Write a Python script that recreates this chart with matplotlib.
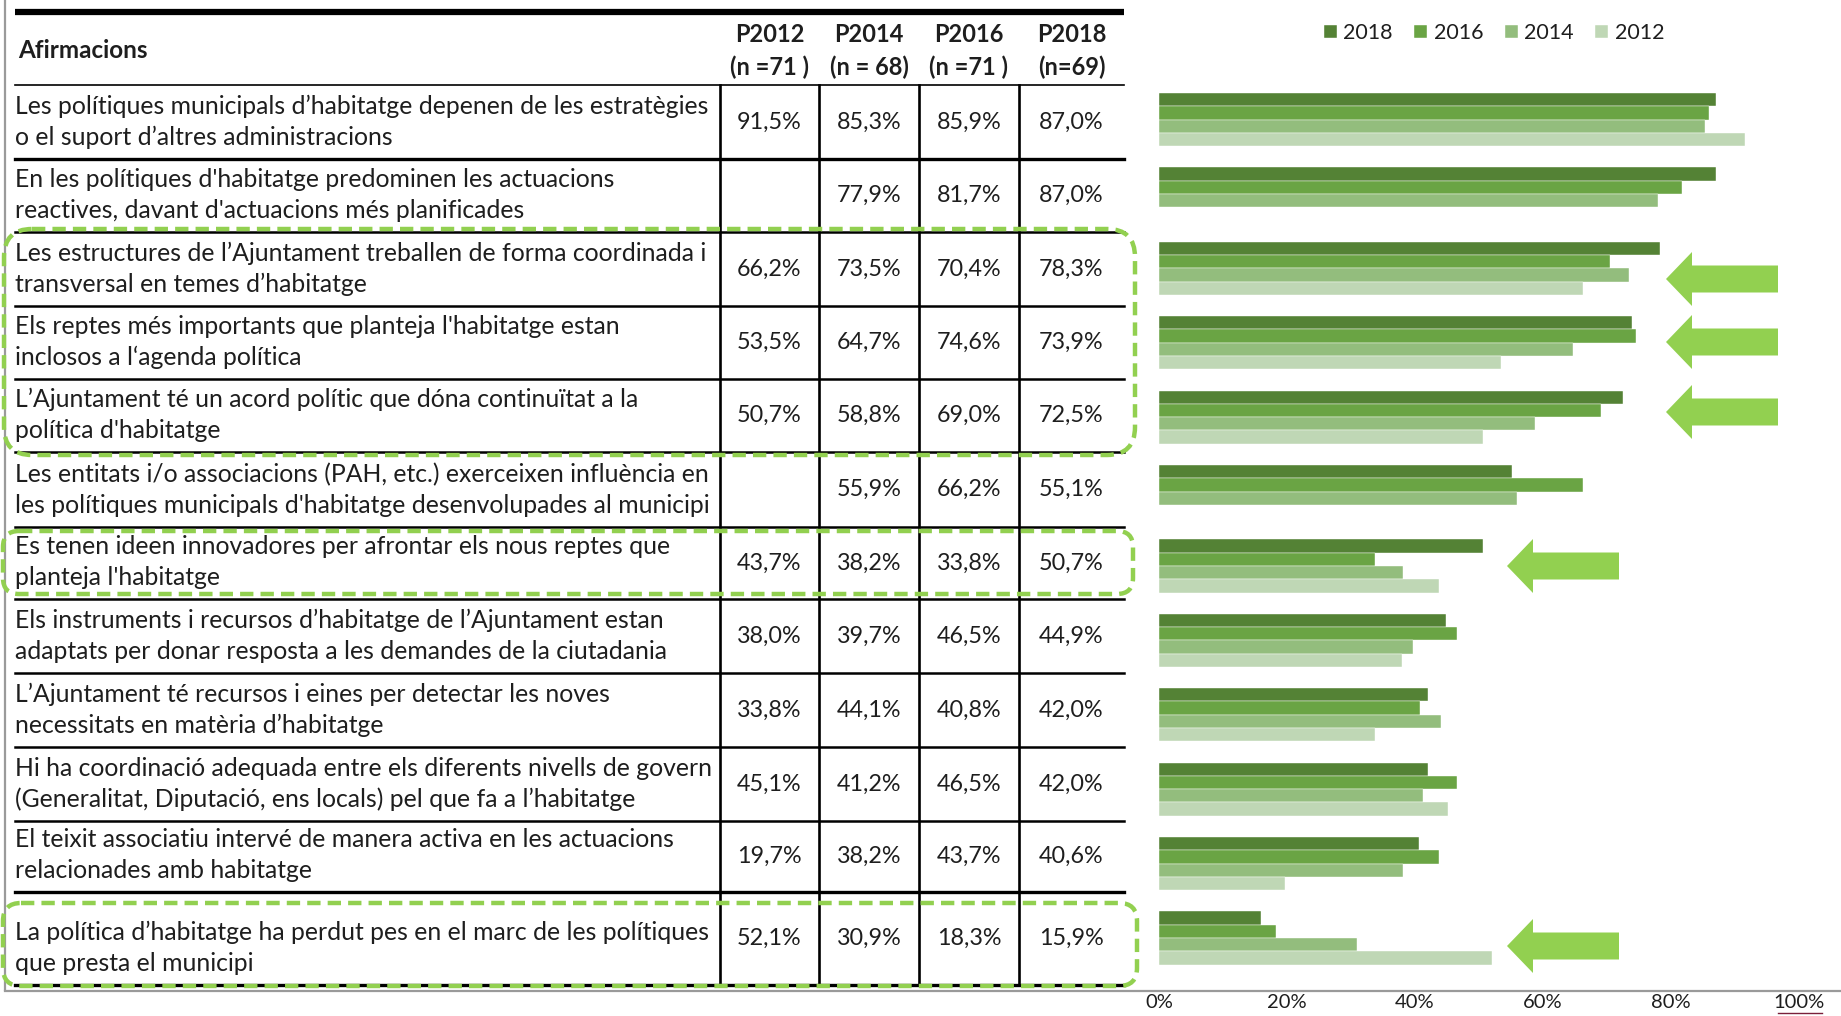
import numpy as np
import matplotlib.pyplot as plt
from matplotlib.patches import FancyBboxPatch, Polygon

plt.rcParams['font.family'] = ['Lato', 'DejaVu Sans']

# ---- data ----
statements = [
    ["Les polítiques municipals d’habitatge depenen de les estratègies", "o el suport d’altres administracions"],
    ["En les polítiques d'habitatge predominen les actuacions", "reactives, davant d'actuacions més planificades"],
    ["Les estructures de l’Ajuntament treballen de forma coordinada i", "transversal en temes d’habitatge"],
    ["Els reptes més importants que planteja l'habitatge estan", "inclosos a l‘agenda política"],
    ["L’Ajuntament té un acord polític que dóna continuïtat a la", "política d'habitatge"],
    ["Les entitats i/o associacions (PAH, etc.) exerceixen influència en", "les polítiques municipals d'habitatge desenvolupades al municipi"],
    ["Es tenen ideen innovadores per afrontar els nous reptes que", "planteja l'habitatge"],
    ["Els instruments i recursos d’habitatge de l’Ajuntament estan", "adaptats per donar resposta a les demandes de la ciutadania"],
    ["L’Ajuntament té recursos i eines per detectar les noves", "necessitats en matèria d’habitatge"],
    ["Hi ha coordinació adequada entre els diferents nivells de govern", "(Generalitat, Diputació, ens locals) pel que fa a l’habitatge"],
    ["El teixit associatiu intervé de manera activa en les actuacions", "relacionades amb habitatge"],
    ["La política d’habitatge ha perdut pes en el marc de les polítiques", "que presta el municipi"],
]
p2012 = [91.5, np.nan, 66.2, 53.5, 50.7, np.nan, 43.7, 38.0, 33.8, 45.1, 19.7, 52.1]
p2014 = [85.3, 77.9, 73.5, 64.7, 58.8, 55.9, 38.2, 39.7, 44.1, 41.2, 38.2, 30.9]
p2016 = [85.9, 81.7, 70.4, 74.6, 69.0, 66.2, 33.8, 46.5, 40.8, 46.5, 43.7, 18.3]
p2018 = [87.0, 87.0, 78.3, 73.9, 72.5, 55.1, 50.7, 44.9, 42.0, 42.0, 40.6, 15.9]
col_titles = ["P2012", "P2014", "P2016", "P2018"]
col_n = ["(n =71 )", "(n = 68)", "(n =71 )", "(n=69)"]
years = ["2018", "2016", "2014", "2012"]
colors = ["#548235", "#6aa444", "#93bd7d", "#bfd7b5"]

# ---- layout (pixels) ----
W, H = 1841, 1016
row_edges = [85, 159, 232, 306, 379, 452, 527, 599, 673, 747, 821, 892, 985]
col_edges = [720, 819, 919, 1019, 1124]
ink = "#1e1e1e"
fs_txt = 17.8
fs_num = 16.8
green = "#92d050"

fig = plt.figure(figsize=(W / 100, H / 100), dpi=100)
ov = fig.add_axes([0, 0, 1, 1])
ov.set_xlim(0, W)
ov.set_ylim(H, 0)
ov.axis("off")

# frame lines
ov.plot([5, 5], [0, 990], color="#9a9a9a", lw=1.6)
ov.plot([5, W], [991, 991], color="#9a9a9a", lw=1.6)

# table
ov.plot([15, 1124], [12, 12], color="black", lw=4.5, solid_capstyle="butt")
ov.plot([15, 1124], [85, 85], color="black", lw=1.2)
for k, y in enumerate(row_edges[1:]):
    lw = 2.4 if k in (0, 10, 11) else 1.8
    ov.plot([15, 1124], [y, y], color="black", lw=lw)
for x in col_edges[:-1]:
    ov.plot([x, x], [85, 985], color="black", lw=1.9)

ov.text(18, 50, "Afirmacions", fontsize=17.5, fontweight="bold", color=ink, va="center")
for c in range(4):
    cx = (col_edges[c] + col_edges[c + 1]) / 2
    ov.text(cx, 35, col_titles[c], fontsize=17, fontweight="bold", color=ink, ha="center", va="center")
    ov.text(cx, 67, col_n[c], fontsize=17, fontweight="bold", color=ink, ha="center", va="center")

vals_by_col = [p2012, p2014, p2016, p2018]
for i, lines in enumerate(statements):
    top, bot = row_edges[i], row_edges[i + 1]
    tc = bot - 37
    ov.text(15, tc - 15.5, lines[0], fontsize=fs_txt, color=ink, va="center")
    ov.text(15, tc + 15.5, lines[1], fontsize=fs_txt, color=ink, va="center")
    for c in range(4):
        v = vals_by_col[c][i]
        if np.isnan(v):
            continue
        cx = (col_edges[c] + col_edges[c + 1]) / 2
        ov.text(cx, (top + bot) / 2, f"{v:.1f}%".replace(".", ","), fontsize=fs_num,
                color=ink, ha="center", va="center")

# dashed highlight boxes
for x0, y0, x1, y1, r in [(4, 229, 1135, 455, 28), (3, 531, 1133, 594, 16), (3, 903, 1137, 986, 18)]:
    ov.add_patch(FancyBboxPatch((x0, y0), x1 - x0, y1 - y0,
                                boxstyle=f"round,pad=0,rounding_size={r}",
                                fill=False, ec=green, lw=3.2, ls=(0, (3, 1.6)), zorder=5))

# arrows (tip x, centre y)
for tip, yc in [(1666, 279), (1666, 342), (1666, 412), (1507, 566), (1507, 946)]:
    pts = [(tip, yc), (tip + 26, yc - 27), (tip + 26, yc - 13.5), (tip + 112, yc - 13.5),
           (tip + 112, yc + 13.5), (tip + 26, yc + 13.5), (tip + 26, yc + 27)]
    ov.add_patch(Polygon(pts, closed=True, fc=green, ec="none", zorder=4))

# bar chart
x0, x1, y_top, y_bot = 1159, 1799, 80, 991
ax = fig.add_axes([x0 / W, 1 - y_bot / H, (x1 - x0) / W, (y_bot - y_top) / H])
ax.patch.set_alpha(0)
n = len(statements)
idx = np.arange(n)
step = 74.4
h = 13.3 / step
first_c = 119.5
ax.set_ylim(n - 1 + (y_bot - (first_c + step * (n - 1))) / step, -(first_c - y_top) / step)
ax.set_xlim(0, 1)
series = [p2018, p2016, p2014, p2012]
handles = []
for j, (vals, col, yr) in enumerate(zip(series, colors, years)):
    v = np.array(vals) / 100
    ok = ~np.isnan(v)
    b = ax.barh(idx[ok] + (j - 1.5) * h, v[ok], height=h, color=col, label=yr,
                edgecolor="white", linewidth=0.3)
    handles.append(b)
for s in ax.spines.values():
    s.set_visible(False)
ax.set_yticks([])
ax.set_xticks(np.linspace(0, 1, 6))
ax.set_xticklabels([f"{int(t)}%" for t in np.linspace(0, 100, 6)], fontsize=14.5, color=ink)
ax.tick_params(axis="x", length=0, pad=2.5)
ov.plot([1778, 1822], [1013, 1013], color="#7a1f3a", lw=1)

fig.legend(handles=handles, labels=years, loc="center", bbox_to_anchor=(1494 / W, 1 - 33 / H),
           ncol=4, frameon=False, fontsize=15.5, handlelength=0.6, handleheight=0.6,
           handletextpad=0.3, columnspacing=1.0, labelcolor=ink)

fig.savefig("out.png", dpi=100)
